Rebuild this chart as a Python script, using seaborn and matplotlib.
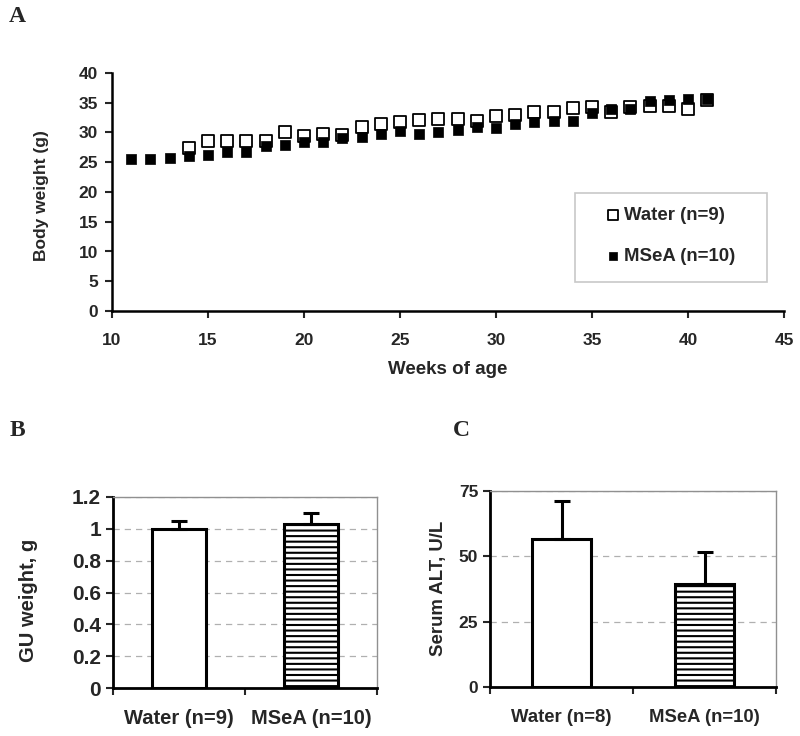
import pandas as pd
import matplotlib.pyplot as plt
import seaborn as sns
from matplotlib.patches import Rectangle

# Panel A - body weight by week
weeks_water = [14, 15, 16, 17, 18, 19, 20, 21, 22, 23, 24, 25, 26, 27, 28, 29, 30,
               31, 32, 33, 34, 35, 36, 37, 38, 39, 40, 41]
weight_water = [27.4, 28.6, 28.6, 28.6, 28.5, 30.1, 29.4, 29.8, 29.6, 31.0, 31.5, 31.8,
                32.1, 32.2, 32.2, 32.0, 32.8, 33.0, 33.4, 33.4, 34.1, 34.3, 33.5, 34.3,
                34.4, 34.4, 34.0, 35.4]
weeks_msea = [11, 12, 13, 14, 15, 16, 17, 18, 19, 20, 21, 22, 23, 24, 25, 26, 27, 28,
              29, 30, 31, 32, 33, 34, 35, 36, 37, 38, 39, 40, 41]
weight_msea = [25.5, 25.5, 25.7, 26.0, 26.2, 26.7, 26.7, 27.7, 27.9, 28.4, 28.4, 29.1,
               29.3, 29.7, 30.2, 29.7, 30.0, 30.5, 31.0, 30.8, 31.5, 31.7, 31.9, 31.9,
               33.2, 34.0, 34.0, 35.3, 35.5, 35.7, 35.7]

# Panel B - GU weight
gu_groups = ['Water (n=9)', 'MSeA (n=10)']
gu_mean = [1.0, 1.03]
gu_err = [0.05, 0.07]

# Panel C - serum ALT
alt_groups = ['Water (n=8)', 'MSeA (n=10)']
alt_mean = [56.5, 39.3]
alt_err = [14.5, 12.5]

sns.set_style('white')
plt.rcParams['font.family'] = ['Liberation Sans', 'DejaVu Sans']
plt.rcParams['font.weight'] = 'bold'
plt.rcParams['axes.labelweight'] = 'bold'
plt.rcParams['hatch.linewidth'] = 1.5

fig = plt.figure(figsize=(8, 7.36), dpi=100)
axA = fig.add_axes([112/800, 1-311/736, 672/800, 238/736])
axB = fig.add_axes([113/800, 1-688/736, 264/800, 191/736])
axC = fig.add_axes([490/800, 1-687/736, 286/800, 196/736])

# ---- A
dfw = pd.DataFrame({'week': weeks_water, 'weight': weight_water})
dfm = pd.DataFrame({'week': weeks_msea, 'weight': weight_msea})
sns.scatterplot(data=dfw, x='week', y='weight', ax=axA, marker='s', s=70,
                facecolor='white', edgecolor='black', linewidth=1.3, label='Water (n=9)')
sns.scatterplot(data=dfm, x='week', y='weight', ax=axA, marker='s', s=60,
                color='black', edgecolor='black', linewidth=0.5, label='MSeA (n=10)')
axA.set_xlim(10, 45)
axA.set_ylim(0, 40)
axA.set_xticks(range(10, 46, 5))
axA.set_yticks(range(0, 41, 5))
axA.set_xlabel('Weeks of age', fontsize=13.5)
axA.set_ylabel('Body weight (g)', fontsize=12.5)
axA.xaxis.set_label_coords(0.5, -0.21)
axA.yaxis.set_label_coords(-0.094, 0.483)
for s in ['top', 'right']:
    axA.spines[s].set_visible(False)
for s in ['left', 'bottom']:
    axA.spines[s].set_linewidth(1.8)
    axA.spines[s].set_color('black')
axA.tick_params(direction='out', length=5, width=1.5, labelsize=12.5, left=True, bottom=True)
axA.tick_params(axis='x', pad=11)
axA.tick_params(axis='y', pad=5)
axA.add_patch(Rectangle((0.689, 0.122), 0.286, 0.374, transform=axA.transAxes,
                        facecolor='white', edgecolor='#c8c8c8', linewidth=1.2, zorder=4))
leg = axA.legend(loc='center', bbox_to_anchor=(0.832, 0.315), frameon=False,
                 fontsize=13.4, labelspacing=1.3, handlelength=0.6, handletextpad=0.3,
                 borderpad=0, markerscale=0.8)
leg.set_zorder(5)


def bar_panel(ax, groups, means, errs, ymax, step, ylabel, tick_fs, xlab_fs, ylab_fs, xpad):
    df = pd.DataFrame({'group': groups, 'value': means})
    sns.barplot(data=df, x='group', y='value', ax=ax, width=0.41, errorbar=None,
                color='white', edgecolor='black', linewidth=2.2)
    ax.patches[1].set_hatch('---')
    ax.errorbar(range(len(groups)), means, yerr=[[0] * len(errs), errs], fmt='none',
                ecolor='black', elinewidth=2.2, capsize=6, capthick=2.2)
    ax.set_xlim(-0.5, 1.5)
    ax.set_ylim(0, ymax)
    yt = [i * step for i in range(int(round(ymax / step)) + 1)]
    ax.set_yticks(yt)
    ax.yaxis.grid(True, linestyle=(0, (5, 4)), color='#b0b0b0', linewidth=0.9)
    ax.set_axisbelow(True)
    ax.set_xlabel('')
    ax.set_ylabel(ylabel, fontsize=ylab_fs)
    ax.set_xticks([-0.5, 0.5, 1.5], minor=True)
    ax.tick_params(axis='x', which='major', length=0, labelsize=xlab_fs, pad=xpad)
    ax.tick_params(axis='x', which='minor', direction='out', length=5, width=1.5, bottom=True)
    ax.tick_params(axis='y', direction='out', length=5, width=1.5, labelsize=tick_fs, left=True)
    for s in ['left', 'bottom']:
        ax.spines[s].set_linewidth(2)
        ax.spines[s].set_color('black')
    for s in ['top', 'right']:
        ax.spines[s].set_linewidth(1)
        ax.spines[s].set_color('#909090')


bar_panel(axB, gu_groups, gu_mean, gu_err, 1.2, 0.2, 'GU weight, g', 15, 14.5, 14.5, 15)
axB.set_yticklabels(['0', '0.2', '0.4', '0.6', '0.8', '1', '1.2'])
axB.yaxis.set_label_coords(-0.284, 0.46)
bar_panel(axC, alt_groups, alt_mean, alt_err, 75, 25, 'Serum ALT, U/L', 12.5, 13.3, 13.4, 16)
axC.yaxis.set_label_coords(-0.15, 0.505)

for txt, x, y in [('A', 17, 16), ('B', 17, 430), ('C', 461, 430)]:
    fig.text(x/800, 1-y/736, txt, family='Liberation Serif', fontsize=17,
             fontweight='bold', va='center', ha='center')

fig.savefig('out.png', dpi=100)
